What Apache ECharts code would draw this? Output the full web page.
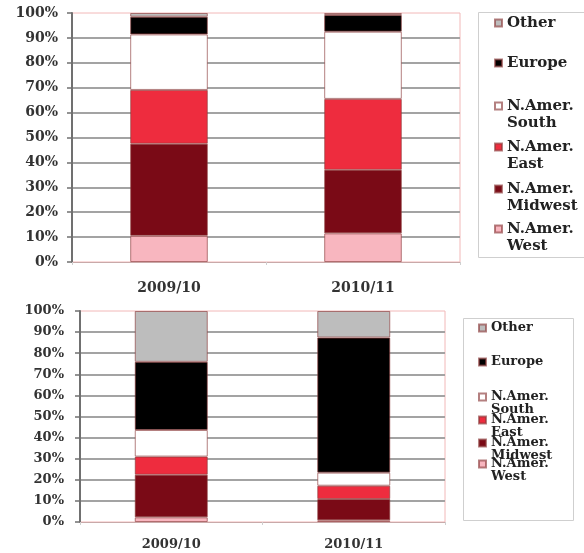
<!DOCTYPE html>
<html>
<head>
<meta charset="utf-8">
<script src="https://cdn.jsdelivr.net/npm/echarts@6/dist/echarts.min.js"></script>
<style>
  html, body { margin: 0; padding: 0; background: #ffffff; }
  #chart { width: 584px; height: 553px; }
</style>
</head>
<body>
<div id="chart"></div>
<script>
// Seasons on the category axis
const seasons = ['2009/10', '2010/11'];

// Region names, stacked from the bottom of each bar upwards
const regions = ['N.Amer. West', 'N.Amer. Midwest', 'N.Amer. East', 'N.Amer. South', 'Europe', 'Other'];

// Upper panel: share of total (%) per region
const upperWest    = [10.5, 11.5];
const upperMidwest = [37.0, 25.5];
const upperEast    = [21.6, 28.5];
const upperSouth   = [22.3, 27.0];
const upperEurope  = [7.1, 6.7];
const upperOther   = [1.5, 0.8];

// Lower panel: share of total (%) per region
const lowerWest    = [2.2, 0.8];
const lowerMidwest = [20.2, 10.1];
const lowerEast    = [8.6, 6.3];
const lowerSouth   = [12.6, 6.2];
const lowerEurope  = [32.3, 64.0];
const lowerOther   = [24.1, 12.6];

// Value-axis tick labels (0% .. 100%)
const percentTicks = [0, 10, 20, 30, 40, 50, 60, 70, 80, 90, 100];

const upperValues = [upperWest, upperMidwest, upperEast, upperSouth, upperEurope, upperOther];
const lowerValues = [lowerWest, lowerMidwest, lowerEast, lowerSouth, lowerEurope, lowerOther];

const regionColors = ['#f8b6bf', '#7a0a16', '#ee2c3e', '#ffffff', '#000000', '#bdbdbd'];
const serif = 'DejaVu Serif';

// Legend order (top to bottom) and first-line centre of every entry
const legendOrder = ['Other', 'Europe', 'N.Amer. South', 'N.Amer. East', 'N.Amer. Midwest', 'N.Amer. West'];
const upperLegendY = [23, 63, 106, 147, 189, 229];
const lowerLegendY = [328, 362, 397, 420, 443, 464];

const panels = [
  { grid: { left: 72, right: 124, top: 13, bottom: 291 }, values: upperValues,
    labelSize: 14, xMargin: 19, yMargin: 14, legendX: 494, legendY: upperLegendY,
    legendSize: 15, lineH: 17, stack: 'upper' },
  { grid: { left: 80, right: 139, top: 311, bottom: 31 }, values: lowerValues,
    labelSize: 13, xMargin: 16, yMargin: 16, legendX: 478, legendY: lowerLegendY,
    legendSize: 13, lineH: 13, stack: 'lower' }
];

const grids = [], xAxes = [], yAxes = [], series = [], legends = [];

panels.forEach((p, gi) => {
  grids.push(Object.assign({
    show: true, borderColor: '#f2b8b8', borderWidth: 1, backgroundColor: 'transparent'
  }, p.grid));

  xAxes.push({
    type: 'category', gridIndex: gi, data: seasons,
    axisLine: { lineStyle: { color: '#c9a9a9', width: 1 } },
    axisTick: { show: true, length: 3, lineStyle: { color: '#cfcfcf' } },
    axisLabel: { margin: p.xMargin, fontFamily: serif, fontWeight: 'bold', fontSize: p.labelSize, color: '#333' }
  });

  yAxes.push({
    type: 'value', gridIndex: gi, min: percentTicks[0], max: percentTicks[percentTicks.length - 1],
    interval: percentTicks[1] - percentTicks[0],
    axisLine: { show: true, lineStyle: { color: '#707070', width: 2 } },
    axisTick: { show: true, length: 5, lineStyle: { color: '#707070', width: 1.5 } },
    splitLine: { show: true, showMinLine: false, showMaxLine: false, lineStyle: { color: '#a3a3a3', width: 1.8 } },
    axisLabel: { margin: p.yMargin, formatter: '{value}%', fontFamily: serif, fontWeight: 'bold',
                 fontSize: p.labelSize, color: '#333' }
  });

  regions.forEach((name, ri) => {
    series.push({
      name: name, type: 'bar', stack: p.stack, xAxisIndex: gi, yAxisIndex: gi,
      barWidth: '40%', data: p.values[ri],
      itemStyle: { color: regionColors[ri], borderColor: 'rgba(140,60,60,0.65)', borderWidth: 1 },
      emphasis: { disabled: true }
    });
  });

  // One legend entry per block so each row can sit at its own height
  legendOrder.forEach((name, li) => {
    const twoLines = name.indexOf('N.Amer. ') === 0;
    const L = p.lineH;
    legends.push({
      data: [name], orient: 'vertical', icon: 'rect', itemWidth: 7, itemHeight: 7,
      padding: 0, left: p.legendX,
      top: twoLines ? p.legendY[li] - 1.5 * L : p.legendY[li] - 0.5 * L,
      selectedMode: false,
      formatter: n => n.indexOf('N.Amer. ') === 0 ? '\nN.Amer.\n' + n.slice(8) : n,
      textStyle: { fontFamily: serif, fontWeight: 'bold', fontSize: p.legendSize, color: '#222', lineHeight: L }
    });
  });
});

const chart = echarts.init(document.getElementById('chart'), null, { renderer: 'canvas' });
chart.setOption({
  animation: false,
  backgroundColor: '#ffffff',
  grid: grids, xAxis: xAxes, yAxis: yAxes, series: series, legend: legends,
  graphic: [
    { type: 'rect', shape: { x: 478.5, y: 12.5, width: 120, height: 245 },
      style: { fill: 'none', stroke: '#cfcfcf', lineWidth: 1 }, z: -1 },
    { type: 'rect', shape: { x: 463.5, y: 318.5, width: 110, height: 202 },
      style: { fill: 'none', stroke: '#cfcfcf', lineWidth: 1 }, z: -1 }
  ]
});
</script>
</body>
</html>
